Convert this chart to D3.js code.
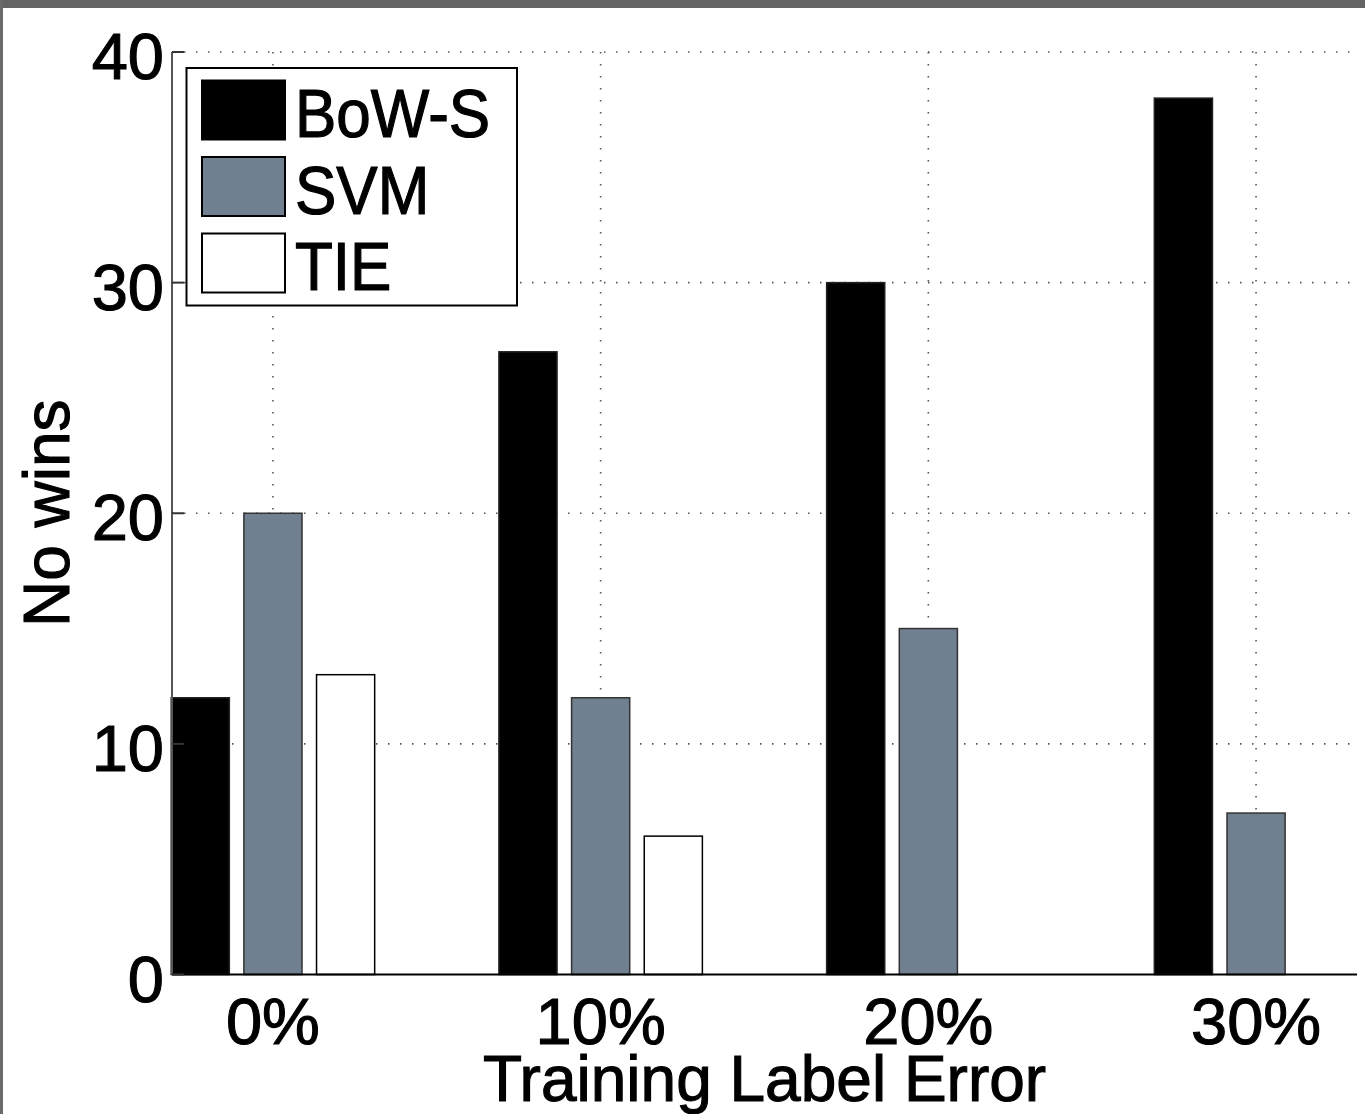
<!DOCTYPE html>
<html>
<head>
<meta charset="utf-8">
<script src="https://cdn.jsdelivr.net/npm/d3@7"></script>
<style>
  html, body { margin: 0; padding: 0; background: #fff; }
  svg { display: block; font-family: "Liberation Sans", Arial, sans-serif; }
  text { fill: #000; stroke: #000; stroke-width: 1.1px; }
</style>
</head>
<body>
<div class="chart"></div>
<script>
var categories = ["0%", "10%", "20%", "30%"];
var seriesNames = ["BoW-S", "SVM", "TIE"];
var bowS = [12, 27, 30, 38];
var svm = [20, 12, 15, 7];
var tie = [13, 6, 0, 0];
var yTicks = [0, 10, 20, 30, 40];

var colors = { "BoW-S": "#000000", "SVM": "slategray", "TIE": "#ffffff" };
var strokes = { "BoW-S": "#222", "SVM": "#333", "TIE": "#000" };

var width = 1365, height = 1114;
// "top" is a reserved window property, so keep plot edges in an object
var plot = { left: 172, right: 1357, top: 52, bottom: 974.5 };

var rows = categories.map(function(c, i) {
  return { cat: c, values: [
    { name: "BoW-S", value: bowS[i] },
    { name: "SVM", value: svm[i] },
    { name: "TIE", value: tie[i] }
  ]};
});

var svg = d3.select("div.chart").append("svg")
  .attr("width", width)
  .attr("height", height);

// frame of the original screenshot
svg.append("rect").attr("x", 0).attr("y", 0).attr("width", width).attr("height", 8).attr("fill", "#646464");
svg.append("rect").attr("x", 0).attr("y", 0).attr("width", 3).attr("height", height).attr("fill", "#6a6a6a");

var x = d3.scalePoint().domain(categories).range([plot.left, plot.right]).padding(0.308);
var inner = d3.scaleBand().domain(seriesNames).range([-109, 109])
  .paddingInner(0.2).paddingOuter(0.1);
var y = d3.scaleLinear().domain([0, 40]).range([plot.bottom, plot.top]);

// grid (dotted)
var grid = svg.append("g").attr("stroke", "#555").attr("stroke-width", 1.6)
  .attr("stroke-dasharray", "1.5,10.5");
grid.selectAll("line.h")
  .data(yTicks.filter(function(d) { return d > 0; }))
  .enter().append("line")
  .attr("x1", plot.left).attr("x2", plot.right)
  .attr("y1", function(d) { return y(d); })
  .attr("y2", function(d) { return y(d); });
grid.selectAll("line.v")
  .data(categories)
  .enter().append("line")
  .attr("x1", function(d) { return x(d); })
  .attr("x2", function(d) { return x(d); })
  .attr("y1", plot.top).attr("y2", plot.bottom);

// bars
var group = svg.selectAll("g.grp")
  .data(rows)
  .enter().append("g")
  .attr("class", "grp")
  .attr("transform", function(d) { return "translate(" + x(d.cat) + ",0)"; });

group.selectAll("rect")
  .data(function(d) { return d.values; })
  .enter().append("rect")
  .attr("x", function(d) { return inner(d.name); })
  .attr("width", inner.bandwidth())
  .attr("y", function(d) { return y(d.value); })
  .attr("height", function(d) { return plot.bottom - y(d.value); })
  .attr("fill", function(d) { return colors[d.name]; })
  .attr("stroke", function(d) { return strokes[d.name]; })
  .attr("stroke-width", 1.5);

// axes
svg.append("line")
  .attr("x1", plot.left).attr("x2", plot.left).attr("y1", plot.top).attr("y2", plot.bottom)
  .attr("stroke", "#555").attr("stroke-width", 2);
svg.append("line")
  .attr("x1", plot.left).attr("x2", plot.right).attr("y1", plot.bottom).attr("y2", plot.bottom)
  .attr("stroke", "#000").attr("stroke-width", 2);

svg.append("g").selectAll("line")
  .data(yTicks)
  .enter().append("line")
  .attr("x1", plot.left).attr("x2", plot.left + 12)
  .attr("y1", function(d) { return y(d); })
  .attr("y2", function(d) { return y(d); })
  .attr("stroke", "#333").attr("stroke-width", 2);

svg.append("g").selectAll("text")
  .data(yTicks)
  .enter().append("text")
  .attr("x", 164)
  .attr("y", function(d) { return y(d) + 27; })
  .attr("text-anchor", "end")
  .style("font-size", "65px")
  .text(function(d) { return d; });

svg.append("g").selectAll("text")
  .data(categories)
  .enter().append("text")
  .attr("x", function(d) { return x(d); })
  .attr("y", 1044)
  .attr("text-anchor", "middle")
  .style("font-size", "65px")
  .text(function(d) { return d; });

svg.append("text")
  .attr("x", (plot.left + plot.right) / 2)
  .attr("y", 1101)
  .attr("text-anchor", "middle")
  .style("font-size", "64px")
  .text("Training Label Error");

svg.append("text")
  .attr("transform", "translate(69," + ((plot.top + plot.bottom) / 2) + ") rotate(-90)")
  .attr("text-anchor", "middle")
  .style("font-size", "64px")
  .text("No wins");

// legend
var legend = svg.append("g");
legend.append("rect")
  .attr("x", 186.5).attr("y", 68)
  .attr("width", 330.5).attr("height", 237.5)
  .attr("fill", "#fff").attr("stroke", "#000").attr("stroke-width", 2);

var item = legend.selectAll("g.item")
  .data(seriesNames)
  .enter().append("g")
  .attr("class", "item")
  .attr("transform", function(d, i) { return "translate(0," + (i * 76.5) + ")"; });

item.append("rect")
  .attr("x", 202).attr("y", 80.5)
  .attr("width", 83).attr("height", 59)
  .attr("fill", function(d) { return colors[d]; })
  .attr("stroke", "#000").attr("stroke-width", 2);

item.append("text")
  .attr("transform", "translate(295,137) scale(1,1.1)")
  .style("font-size", "62px")
  .text(function(d) { return d; });
</script>
</body>
</html>
